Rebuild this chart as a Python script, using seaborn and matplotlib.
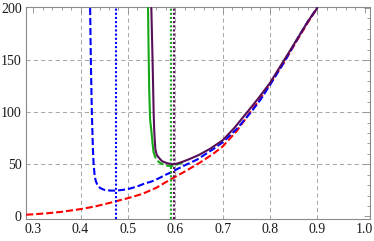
import matplotlib
matplotlib.use("Agg")
import matplotlib.pyplot as plt
import seaborn as sns
import pandas as pd
import numpy as np
from matplotlib.ticker import MultipleLocator

# ---- data ----
red_x = [0.285, 0.30, 0.33, 0.36, 0.40, 0.43, 0.46, 0.50, 0.53, 0.56, 0.59, 0.62,
         0.65, 0.68, 0.70, 0.73, 0.76, 0.78, 0.80, 0.83, 0.86, 0.88, 0.90]
red_y = [1.6, 2.0, 3.0, 4.4, 7.0, 9.5, 12.8, 17.5, 21.5, 27.5, 35.5, 43,
         51, 60, 67, 82, 101, 113, 127, 148, 171, 186, 200]

blue_x = [0.4201, 0.4216, 0.4237, 0.4260, 0.4275, 0.4295, 0.4320, 0.4360, 0.4420,
          0.4500, 0.4620, 0.4740, 0.4900, 0.5050, 0.5200, 0.5350, 0.5500, 0.5650,
          0.5800, 0.5900, 0.6000, 0.6200, 0.6460, 0.6800, 0.7000, 0.7300, 0.7600,
          0.7800, 0.8000, 0.8300, 0.8600, 0.8800, 0.9000]
blue_y = [200, 150, 100, 65, 50, 40, 34, 29.5, 27, 25.5, 24.8, 24.7, 25.5, 26.8,
          28.8, 31.5, 33.5, 36.5, 40, 42, 44.5, 49, 54.5, 64.5, 71, 84, 100,
          112, 126, 148, 172, 187, 200]

green_solid_x = [0.5424, 0.5436, 0.5450, 0.5468, 0.5500, 0.5520, 0.5540]
green_solid_y = [200, 160, 120, 93, 80, 70, 62]

green_dash_x = [0.5540, 0.5580, 0.5620, 0.5680, 0.5760, 0.5850, 0.5920, 0.6000,
                0.6100, 0.6200]
green_dash_y = [62, 56.5, 53.5, 51.3, 49.5, 48.5, 48.3, 49.2, 50.8, 52.7]

purple_x = [0.5494, 0.5510, 0.5525, 0.5543, 0.5555, 0.5568, 0.5580, 0.5610, 0.5650,
            0.5720, 0.5830, 0.5950, 0.6050, 0.6170, 0.6300, 0.6500, 0.6740, 0.7000,
            0.7250, 0.7520, 0.7750, 0.8000, 0.8300, 0.8600, 0.8800, 0.9000]
purple_y = [200, 170, 140, 100, 83, 72, 64, 59, 56.5, 53, 51, 50, 50.8, 52.7, 55,
            59, 65, 73, 85, 100, 113, 128, 150, 172, 187, 200]

asymptotes = {"blue": 0.474, "green": 0.590, "purple": 0.597}

x_ticks = [0.3, 0.4, 0.5, 0.6, 0.7, 0.8, 0.9, 1.0]
x_tick_labels = ["0.3", "0.4", "0.5", "0.6", "0.7", "0.8", "0.9", "1.0"]
y_ticks = [0, 50, 100, 150, 200]
y_tick_labels = ["0", "50", "100", "150", "200"]

# ---- style ----
sns.set_theme(style="white")
plt.rcParams["font.family"] = ["Liberation Serif", "DejaVu Serif"]

RED = "#ff0000"
BLUE = "#0000ff"
GREEN = "#16a816"
PURPLE = "#561058"

fig = plt.figure(figsize=(3.74, 2.41), dpi=100)
ax = fig.add_axes([0.0695, 0.0913, 0.9195, 0.8777])

lw = 1.5
dash = (0, (3.4, 1.4))
dot = (0, (1.0, 1.0))

def line(xs, ys, color, ls, z):
    df = pd.DataFrame({"x": xs, "y": ys})
    sns.lineplot(data=df, x="x", y="y", ax=ax, color=color, linewidth=lw,
                 linestyle=ls, sort=False, estimator=None, zorder=z)

line(red_x, red_y, RED, dash, 3)
line(blue_x, blue_y, BLUE, dash, 4)
line(green_solid_x, green_solid_y, GREEN, "-", 5)
line(green_dash_x, green_dash_y, GREEN, dash, 5)
line(purple_x, purple_y, PURPLE, "-", 6)

for name, col in (("blue", BLUE), ("green", GREEN), ("purple", PURPLE)):
    ax.axvline(asymptotes[name], color=col, linewidth=lw, linestyle=dot, zorder=4)

ax.set_xlim(0.2846, 1.0112)
ax.set_ylim(-2.5, 200.5)
ax.set_xlabel("")
ax.set_ylabel("")

ax.set_xticks(x_ticks)
ax.set_xticklabels(x_tick_labels)
ax.set_yticks(y_ticks)
ax.set_yticklabels(y_tick_labels)
ax.xaxis.set_minor_locator(MultipleLocator(0.02))
ax.yaxis.set_minor_locator(MultipleLocator(10))

frame_col = "#8a8a8a"
for sp in ax.spines.values():
    sp.set_visible(True)
    sp.set_color(frame_col)
    sp.set_linewidth(0.8)

ax.tick_params(which="both", direction="in", top=True, right=True,
               color=frame_col, width=0.6, labelsize=10, labelcolor="#1a1a1a")
ax.tick_params(which="major", length=4.0, pad=3)
ax.tick_params(which="minor", length=2.2)

ax.grid(True, which="major", color="#a8a8a8", linestyle=(0, (4, 3)), linewidth=0.75)
for tick_val, gl in zip(ax.get_xticks(), ax.xaxis.get_gridlines()):
    if tick_val < 0.35 or tick_val > 0.95:
        gl.set_visible(False)
for tick_val, gl in zip(ax.get_yticks(), ax.yaxis.get_gridlines()):
    if tick_val < 1 or tick_val > 199:
        gl.set_visible(False)
ax.set_axisbelow(True)

fig.savefig("out.png", dpi=100)
